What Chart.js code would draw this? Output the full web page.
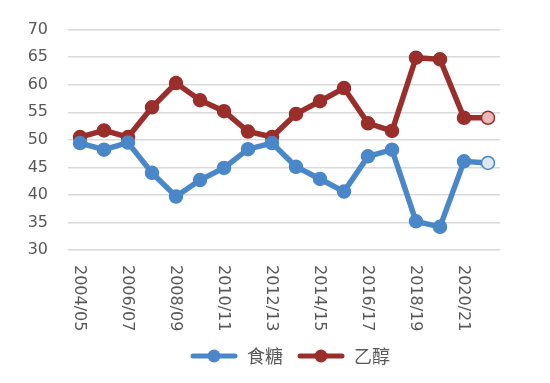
<!DOCTYPE html>
<html>
<head>
<meta charset="utf-8">
<script src="https://cdn.jsdelivr.net/npm/chart.js@4"></script>
<style>
  html, body { margin: 0; padding: 0; background: #fff; }
  #wrap { width: 550px; height: 383px; }
</style>
</head>
<body>
<div id="wrap"><canvas id="chart"></canvas></div>
<script>
const seasons = ['2004/05', '2005/06', '2006/07', '2007/08', '2008/09', '2009/10', '2010/11', '2011/12', '2012/13',
  '2013/14', '2014/15', '2015/16', '2016/17', '2017/18', '2018/19', '2019/20', '2020/21', '2021/22'];
const sugar = [49.4, 48.2, 49.5, 44.0, 39.7, 42.7, 44.9, 48.3, 49.4, 45.1, 42.9, 40.6, 47.0, 48.2, 35.2, 34.2, 46.1, 45.8];
const ethanol = [50.5, 51.7, 50.5, 55.9, 60.3, 57.2, 55.2, 51.5, 50.5, 54.7, 57.0, 59.4, 53.0, 51.6, 64.9, 64.6, 54.0, 54.0];
const yTicks = [30, 35, 40, 45, 50, 55, 60, 65, 70];

const blue = '#4a87c8';
const red = '#9a2e2b';
const textColor = '#595959';

// legend marker: line with a dot in the middle
function legendMark(color) {
  const c = document.createElement('canvas');
  c.width = 48; c.height = 16;
  const g = c.getContext('2d');
  g.strokeStyle = color;
  g.lineWidth = 5;
  g.lineCap = 'round';
  g.beginPath(); g.moveTo(3, 8); g.lineTo(45, 8); g.stroke();
  g.fillStyle = color;
  g.beginPath(); g.arc(24, 8, 6.5, 0, Math.PI * 2); g.fill();
  return c;
}

// last point is the forecast: lighter fill
const lastIdx = seasons.length - 1;
const fillFor = (base, light) => seasons.map((s, i) => i === lastIdx ? light : base);

// x labels read top to bottom, so draw them ourselves
const xLabels = {
  id: 'xLabels',
  afterLayout(chart) {
    // legend sits a bit right of centre in the original
    chart.legend.left += 40;
    chart.legend.right += 40;
  },
  afterDraw(chart) {
    const ctx = chart.ctx;
    const x = chart.scales.x;
    ctx.save();
    ctx.font = '16px "DejaVu Sans", sans-serif';
    ctx.fillStyle = textColor;
    ctx.textAlign = 'left';
    ctx.textBaseline = 'middle';
    seasons.forEach((s, i) => {
      if (i % 2) return;
      ctx.save();
      ctx.translate(x.getPixelForValue(i) - 1, chart.chartArea.bottom + 15);
      ctx.rotate(Math.PI / 2);
      ctx.fillText(s, 0, 0);
      ctx.restore();
    });
    ctx.restore();
  }
};

new Chart('chart', {
  type: 'line',
  data: {
    labels: seasons,
    datasets: [{
      label: '食糖',
      data: sugar,
      borderColor: blue,
      backgroundColor: fillFor(blue, '#dde7f3'),
      pointBorderColor: blue,
      borderWidth: 5.5,
      pointRadius: 6.5,
      pointBorderWidth: 1.5,
      pointStyle: 'circle',
      tension: 0
    }, {
      label: '乙醇',
      data: ethanol,
      borderColor: red,
      backgroundColor: fillFor(red, '#e9b9b8'),
      pointBorderColor: red,
      borderWidth: 5.5,
      pointRadius: 6.5,
      pointBorderWidth: 1.5,
      pointStyle: 'circle',
      tension: 0
    }]
  },
  options: {
    responsive: true,
    maintainAspectRatio: false,
    animation: false,
    layout: { padding: { top: 28, right: 50, left: 0, bottom: 8 } },
    plugins: {
      tooltip: { enabled: false },
      legend: {
        position: 'bottom',
        labels: {
          usePointStyle: true,
          pointStyleWidth: 48,
          color: textColor,
          font: { family: '"Noto Sans CJK SC", sans-serif', size: 18 },
          padding: 14,
          generateLabels: chart => chart.data.datasets.map((d, i) => ({
            text: d.label,
            pointStyle: legendMark(d.borderColor),
            fontColor: textColor,
            datasetIndex: i,
            lineWidth: 0
          }))
        }
      }
    },
    scales: {
      x: {
        offset: true,
        grid: { display: false },
        border: { display: false },
        ticks: { display: false },
        afterFit: s => { s.height = 83; }
      },
      y: {
        min: 30,
        max: 70,
        afterBuildTicks: s => { s.ticks = yTicks.map(v => ({ value: v })); },
        afterFit: s => { s.width = 68; },
        grid: { color: '#d9d9d9', lineWidth: 1.5, drawTicks: false },
        border: { display: false },
        ticks: {
          color: textColor,
          padding: 20,
          font: { family: '"DejaVu Sans", sans-serif', size: 16 }
        }
      }
    }
  },
  plugins: [xLabels]
});
</script>
</body>
</html>
